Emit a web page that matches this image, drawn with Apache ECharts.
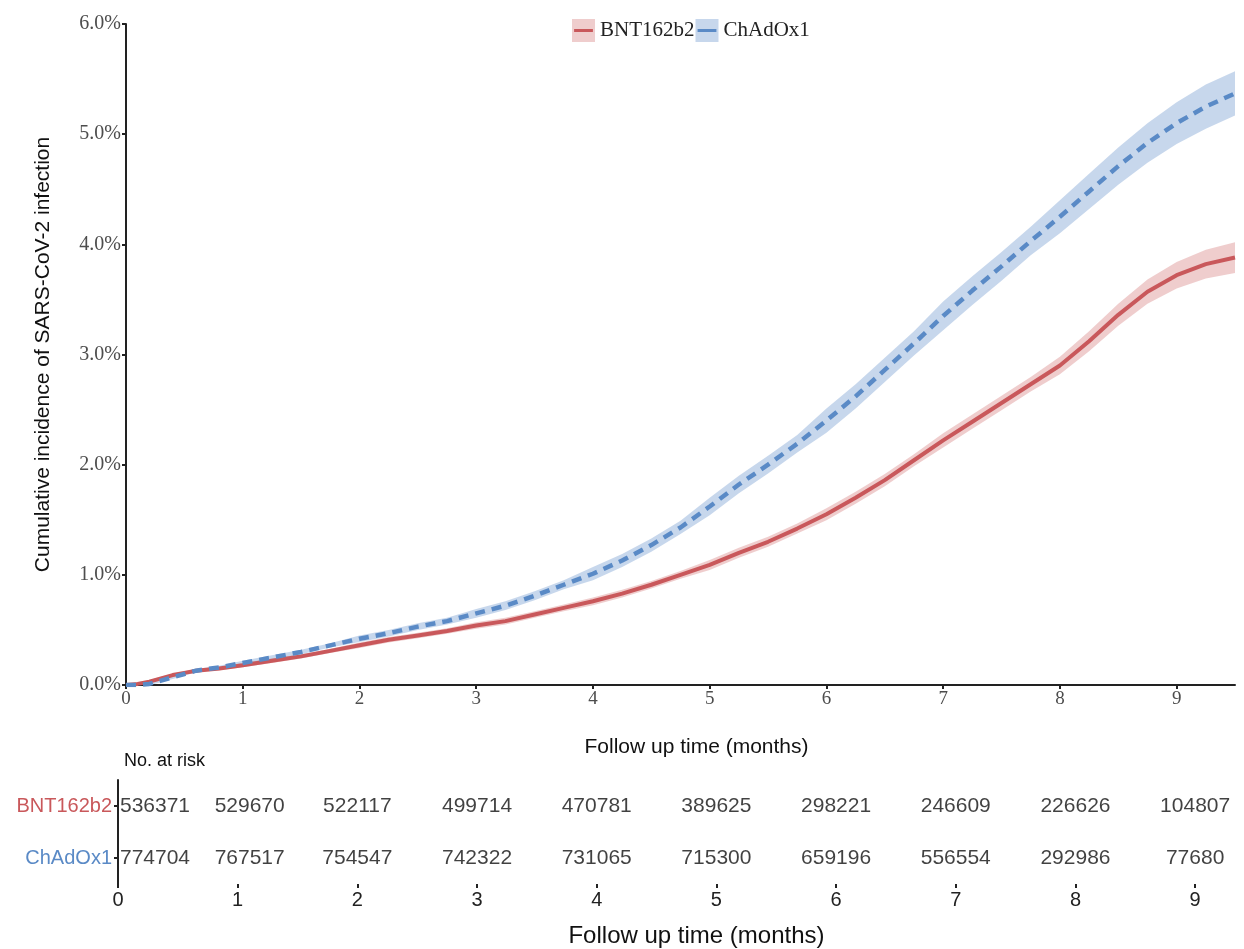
<!DOCTYPE html>
<html>
<head>
<meta charset="utf-8">
<script src="https://cdn.jsdelivr.net/npm/echarts/dist/echarts.min.js"></script>
<style>
  html, body { margin: 0; padding: 0; background: #fff; }
  #chart { width: 1244px; height: 949px; }
</style>
</head>
<body>
<div id="chart"></div>
<script>
// follow-up time (months)
var months = [0, 0.1, 0.2, 0.3, 0.4, 0.5, 0.6, 0.8,
  1.0, 1.25, 1.5, 1.75, 2.0, 2.25, 2.5, 2.75, 3.0, 3.25, 3.5, 3.75,
  4.0, 4.25, 4.5, 4.75, 5.0, 5.25, 5.5, 5.75, 6.0, 6.25, 6.5, 6.75,
  7.0, 7.25, 7.5, 7.75, 8.0, 8.25, 8.5, 8.75, 9.0, 9.25, 9.5];

// cumulative incidence (%)
var bntIncidence = [0, 0.01, 0.03, 0.06, 0.09, 0.11, 0.13, 0.15,
  0.18, 0.22, 0.26, 0.31, 0.36, 0.41, 0.45, 0.49, 0.54, 0.58, 0.64, 0.70,
  0.76, 0.83, 0.91, 1.00, 1.09, 1.20, 1.30, 1.42, 1.55, 1.70, 1.86, 2.04,
  2.22, 2.39, 2.56, 2.73, 2.90, 3.12, 3.36, 3.57, 3.72, 3.82, 3.88];
var chadIncidence = [0, 0, 0.01, 0.04, 0.07, 0.10, 0.13, 0.16,
  0.20, 0.25, 0.30, 0.36, 0.42, 0.47, 0.53, 0.58, 0.65, 0.72, 0.81, 0.91,
  1.01, 1.13, 1.27, 1.43, 1.62, 1.82, 2.00, 2.19, 2.40, 2.62, 2.86, 3.10,
  3.35, 3.58, 3.80, 4.03, 4.25, 4.48, 4.71, 4.92, 5.10, 5.25, 5.37];

// half width of the 95% band (%)
var bntHalfCI = [0, 0.015, 0.015, 0.015, 0.015, 0.015, 0.015, 0.015,
  0.02, 0.02, 0.02, 0.02, 0.025, 0.025, 0.025, 0.025, 0.03, 0.03, 0.03, 0.03,
  0.035, 0.035, 0.035, 0.035, 0.045, 0.045, 0.045, 0.045, 0.055, 0.055, 0.055, 0.055,
  0.065, 0.065, 0.065, 0.065, 0.08, 0.09, 0.10, 0.11, 0.12, 0.13, 0.14];
var chadHalfCI = [0, 0.015, 0.015, 0.015, 0.015, 0.015, 0.015, 0.015,
  0.02, 0.02, 0.02, 0.02, 0.03, 0.03, 0.03, 0.03, 0.04, 0.04, 0.04, 0.04,
  0.06, 0.06, 0.06, 0.06, 0.08, 0.08, 0.08, 0.08, 0.11, 0.11, 0.11, 0.11,
  0.13, 0.13, 0.13, 0.13, 0.15, 0.16, 0.17, 0.18, 0.19, 0.20, 0.20];

// number at risk
var riskTimes = [0, 1, 2, 3, 4, 5, 6, 7, 8, 9];
var groups = ['BNT162b2', 'ChAdOx1'];
var bntAtRisk = [536371, 529670, 522117, 499714, 470781, 389625, 298221, 246609, 226626, 104807];
var chadAtRisk = [774704, 767517, 754547, 742322, 731065, 715300, 659196, 556554, 292986, 77680];

var xTicks = [0, 1, 2, 3, 4, 5, 6, 7, 8, 9];

var RED = '#c9585b', RED_BAND = 'rgba(201,88,91,0.3)';
var BLUE = '#5a8ac6', BLUE_BAND = 'rgba(90,138,198,0.34)';
var SERIF = '"Liberation Serif", "DejaVu Serif", serif';
var SANS = '"Liberation Sans", Arial, sans-serif';

function pairs(vals) {
  return months.map(function (t, i) { return [t, vals[i]]; });
}

// confidence band as one polygon, drawn once through the axis scales
function bandSeries(name, vals, ci, color) {
  var rows = months.map(function (t, i) {
    return [t, Math.max(0, vals[i] - ci[i]), vals[i] + ci[i]];
  });
  return {
    name: name + ' band', type: 'custom', xAxisIndex: 0, yAxisIndex: 0,
    silent: true, data: rows, encode: { x: 0, y: [1, 2] },
    renderItem: function (params, api) {
      if (params.dataIndex !== 0) return;
      var top = [], bottom = [];
      rows.forEach(function (r) {
        top.push(api.coord([r[0], r[2]]));
        bottom.push(api.coord([r[0], r[1]]));
      });
      return {
        type: 'polygon',
        shape: { points: top.concat(bottom.reverse()) },
        style: { fill: color }
      };
    }
  };
}

// numbers at risk shown as labels; the first columns are nudged right like the original
var nudge = [37, 12, 0, 0, 0, 0, 0, 0, 0, 0];
function riskData(group, counts) {
  return riskTimes.map(function (t, i) {
    return { value: [t, group, counts[i]], label: { offset: [nudge[i], 0] } };
  });
}
function riskSeries(group, counts) {
  return {
    name: 'risk ' + group, type: 'scatter', xAxisIndex: 1, yAxisIndex: 1,
    symbolSize: 0, data: riskData(group, counts), silent: true,
    label: {
      show: true, position: 'inside', fontFamily: SANS, fontSize: 21, color: '#111',
      formatter: function (p) { return String(p.value[2]); }
    }
  };
}

// legend icon: a line drawn inside an invisible full box so it keeps its place
var lineIcon = 'path://M0,0h0.01v0.01h-0.01z M2,9.5h18v3h-18z M21.99,21.99h0.01v0.01h-0.01z';

var chart = echarts.init(document.getElementById('chart'));
chart.setOption({
  animation: false,
  backgroundColor: '#fff',
  title: {
    text: 'No. at risk', left: 119, top: 747,
    textStyle: { fontFamily: SANS, fontSize: 18, fontWeight: 'normal', color: '#111' }
  },
  legend: [{
    left: 567, top: 14, itemWidth: 23, itemHeight: 23, itemGap: 1,
    selectedMode: false,
    textStyle: { fontFamily: SERIF, fontSize: 21, color: '#222' },
    data: [
      { name: 'BNT162b2', icon: 'rect', itemStyle: { color: RED_BAND } },
      { name: 'ChAdOx1', icon: 'rect', itemStyle: { color: BLUE_BAND } }
    ]
  }, {
    left: 567, top: 14, itemWidth: 23, itemHeight: 23, itemGap: 1,
    selectedMode: false,
    textStyle: { fontFamily: SERIF, fontSize: 21, color: 'rgba(0,0,0,0)' },
    data: [
      { name: 'BNT162b2', icon: lineIcon, itemStyle: { color: RED } },
      { name: 'ChAdOx1', icon: lineIcon, itemStyle: { color: BLUE } }
    ]
  }],
  grid: [
    { left: 126, top: 24, right: 9, bottom: 264 },
    { left: 118, top: 780, right: 1, bottom: 59 }
  ],
  xAxis: [{
    gridIndex: 0, type: 'value', min: 0, max: 9.5,
    name: 'Follow up time (months)', nameLocation: 'middle', nameGap: 52,
    nameTextStyle: { fontFamily: SANS, fontSize: 21, color: '#111', padding: [0, 0, 0, 32] },
    axisLine: { lineStyle: { color: '#222', width: 2 } },
    axisTick: { show: true, length: 4, customValues: xTicks, lineStyle: { color: '#222', width: 2 } },
    axisLabel: { customValues: xTicks, fontFamily: SERIF, fontSize: 19, color: '#4d4d4d', margin: 5 },
    splitLine: { show: false }
  }, {
    gridIndex: 1, type: 'value', min: 0, max: 9.4,
    name: 'Follow up time (months)', nameLocation: 'middle', nameGap: 40,
    nameTextStyle: { fontFamily: SANS, fontSize: 24, color: '#111', padding: [0, 0, 0, 32] },
    axisLine: { lineStyle: { color: '#222', width: 2 } },
    axisTick: { show: true, length: 4, customValues: xTicks, lineStyle: { color: '#222', width: 2 } },
    axisLabel: { customValues: xTicks, fontFamily: SANS, fontSize: 20, color: '#222', margin: 6 },
    splitLine: { show: false }
  }],
  yAxis: [{
    gridIndex: 0, type: 'value', min: 0, max: 6, interval: 1,
    name: 'Cumulative incidence of SARS-CoV-2 infection', nameLocation: 'middle', nameGap: 72,
    nameTextStyle: { fontFamily: SANS, fontSize: 21, color: '#111' },
    axisLine: { show: true, lineStyle: { color: '#222', width: 2 } },
    axisTick: { show: true, length: 4, lineStyle: { color: '#222', width: 2 } },
    axisLabel: {
      fontFamily: SERIF, fontSize: 20, color: '#4d4d4d', margin: 5,
      formatter: function (v) { return v.toFixed(1) + '%'; }
    },
    splitLine: { show: false }
  }, {
    gridIndex: 1, type: 'category', data: groups, inverse: true,
    axisLine: { show: true, lineStyle: { color: '#222', width: 2 } },
    axisTick: { show: true, length: 4, alignWithLabel: true, lineStyle: { color: '#222', width: 2 } },
    axisLabel: {
      fontFamily: SANS, fontSize: 20, margin: 6,
      color: function (v) { return v === 'BNT162b2' ? RED : BLUE; }
    }
  }],
  series: [
    bandSeries('BNT162b2', bntIncidence, bntHalfCI, RED_BAND),
    bandSeries('ChAdOx1', chadIncidence, chadHalfCI, BLUE_BAND),
    {
      name: 'BNT162b2', type: 'line', xAxisIndex: 0, yAxisIndex: 0,
      data: pairs(bntIncidence), showSymbol: false, color: RED,
      lineStyle: { color: RED, width: 4 }
    }, {
      name: 'ChAdOx1', type: 'line', xAxisIndex: 0, yAxisIndex: 0,
      data: pairs(chadIncidence), showSymbol: false, color: BLUE,
      lineStyle: { color: BLUE, width: 4.5, type: [10, 7] }
    },
    riskSeries('BNT162b2', bntAtRisk),
    riskSeries('ChAdOx1', chadAtRisk)
  ]
});
</script>
</body>
</html>
